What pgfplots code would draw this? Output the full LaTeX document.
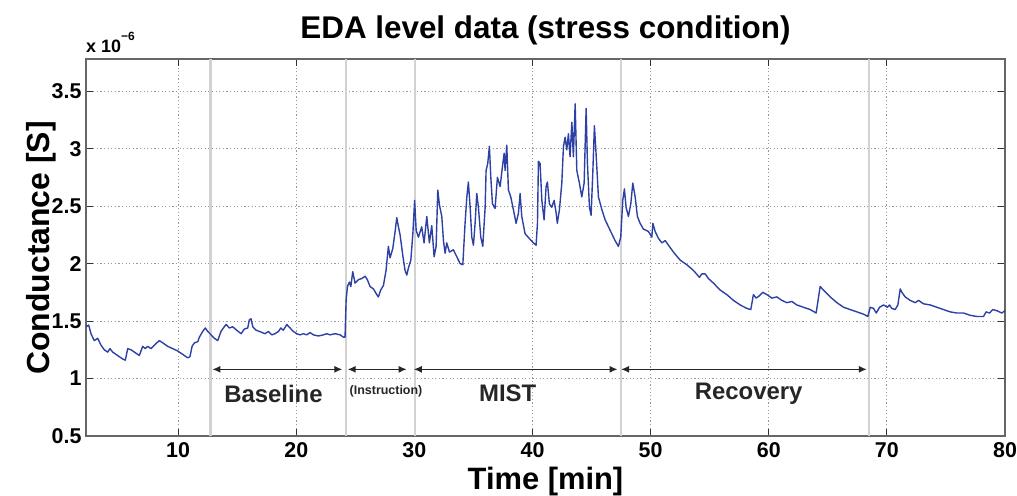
\documentclass[border=0pt]{standalone}
\usepackage{pgfplots}
\pgfplotsset{compat=1.18}
\usepackage{pgfplotstable}
\usepackage{fontspec}
\setmainfont{Liberation Sans}
\usetikzlibrary{arrows.meta}
\definecolor{edablue}{RGB}{45,65,165}
\pgfplotstableread{
t v
2.20 1.45
2.43 1.465
2.62 1.39
2.90 1.33
3.19 1.35
3.47 1.29
3.75 1.25
4.04 1.23
4.23 1.26
4.46 1.23
4.88 1.20
5.31 1.17
5.53 1.16
5.73 1.26
6.01 1.25
6.44 1.22
6.71 1.20
7.00 1.28
7.22 1.26
7.42 1.28
7.70 1.26
7.99 1.29
8.19 1.31
8.41 1.33
8.70 1.31
9.12 1.28
9.54 1.26
9.96 1.24
10.39 1.21
10.81 1.18
11.00 1.19
11.18 1.28
11.37 1.31
11.66 1.32
11.80 1.36
12.08 1.41
12.30 1.44
12.50 1.41
12.79 1.38
13.07 1.35
13.35 1.33
13.63 1.41
13.83 1.44
14.06 1.47
14.34 1.44
14.62 1.45
14.96 1.42
15.33 1.39
15.60 1.43
15.89 1.44
16.03 1.51
16.17 1.52
16.32 1.45
16.60 1.42
16.88 1.41
17.36 1.39
17.64 1.41
17.93 1.38
18.20 1.39
18.50 1.41
18.69 1.44
18.90 1.42
19.20 1.47
19.47 1.44
19.75 1.41
20.04 1.39
20.32 1.38
20.60 1.39
20.89 1.38
21.17 1.40
21.45 1.38
21.87 1.37
22.30 1.38
22.58 1.39
22.86 1.38
23.29 1.39
23.71 1.38
23.99 1.36
24.13 1.36
24.22 1.68
24.33 1.80
24.50 1.84
24.62 1.80
24.78 1.93
24.98 1.83
25.26 1.86
25.55 1.87
25.83 1.89
26.02 1.86
26.25 1.80
26.53 1.78
26.82 1.73
26.95 1.71
27.15 1.77
27.38 1.81
27.60 1.94
27.80 2.15
27.94 2.05
28.17 2.13
28.37 2.28
28.51 2.40
28.65 2.32
28.79 2.25
29.02 2.07
29.21 1.94
29.36 1.90
29.49 1.96
29.70 2.03
29.87 2.26
30.02 2.55
30.15 2.29
30.34 2.23
30.62 2.32
30.82 2.18
31.05 2.41
31.27 2.18
31.47 2.33
31.67 2.06
31.84 2.15
31.98 2.64
32.12 2.51
32.32 2.41
32.46 2.20
32.60 2.09
32.74 2.18
32.97 2.10
33.30 2.12
33.59 2.06
33.87 2.00
34.10 1.99
34.29 2.35
34.44 2.58
34.57 2.71
34.72 2.49
34.86 2.23
35.00 2.16
35.14 2.35
35.28 2.61
35.42 2.49
35.62 2.23
35.79 2.15
35.99 2.49
36.07 2.81
36.21 2.87
36.35 3.02
36.47 2.75
36.61 2.52
36.83 2.48
37.03 2.75
37.26 2.67
37.45 2.84
37.60 2.96
37.68 2.81
37.82 3.03
37.96 2.64
38.16 2.58
38.38 2.47
38.61 2.35
38.81 2.44
38.95 2.61
39.09 2.41
39.37 2.26
39.80 2.21
40.08 2.18
40.30 2.16
40.42 2.35
40.50 2.89
40.64 2.87
40.79 2.55
40.98 2.38
41.15 2.67
41.26 2.71
41.43 2.52
41.63 2.49
41.83 2.55
42.00 2.44
42.10 2.35
42.28 2.47
42.48 2.70
42.62 3.02
42.76 3.10
42.90 2.99
43.04 3.13
43.18 2.93
43.33 3.23
43.46 2.93
43.61 3.39
43.75 2.81
43.97 2.70
44.17 2.58
44.37 2.70
44.54 3.35
44.65 2.87
44.82 2.49
44.96 2.42
45.10 2.78
45.24 3.20
45.39 2.94
45.58 2.58
45.87 2.47
46.15 2.38
46.57 2.29
46.99 2.20
47.27 2.15
47.47 2.23
47.64 2.55
47.78 2.65
47.92 2.49
48.12 2.41
48.32 2.52
48.49 2.70
48.69 2.58
48.88 2.41
49.11 2.35
49.39 2.30
49.81 2.28
50.10 2.23
50.19 2.35
50.38 2.28
50.66 2.22
50.95 2.18
51.23 2.20
51.51 2.16
51.93 2.10
52.50 2.03
53.06 1.99
53.63 1.94
54.13 1.88
54.33 1.91
54.62 1.91
54.89 1.87
55.32 1.83
55.88 1.77
56.45 1.73
57.01 1.68
57.58 1.64
58.14 1.61
58.48 1.60
58.70 1.73
58.93 1.70
59.21 1.72
59.50 1.75
59.84 1.73
60.26 1.70
60.69 1.71
61.11 1.68
61.53 1.66
61.96 1.67
62.38 1.64
62.94 1.62
63.51 1.60
64.01 1.57
64.13 1.65
64.35 1.80
64.63 1.77
65.20 1.71
65.77 1.66
66.33 1.62
66.89 1.60
67.46 1.58
68.02 1.56
68.39 1.54
68.59 1.62
68.87 1.61
69.10 1.57
69.38 1.62
69.72 1.64
70.05 1.62
70.22 1.64
70.42 1.61
70.70 1.60
70.93 1.64
71.13 1.78
71.27 1.75
71.55 1.71
71.97 1.68
72.40 1.66
72.68 1.68
73.10 1.65
73.67 1.64
74.23 1.62
74.79 1.60
75.36 1.58
75.92 1.57
76.49 1.57
77.05 1.55
77.62 1.54
78.18 1.54
78.40 1.58
78.69 1.57
78.97 1.60
79.31 1.59
79.73 1.57
80.00 1.59
}\edadata
\begin{document}
\begin{tikzpicture}
\path[use as bounding box] (-86bp,-60bp) rectangle (931bp,436bp);
\begin{axis}[
  scale only axis,
  width=919bp, height=377bp,
  xmin=2.2, xmax=80, ymin=0.5, ymax=3.78,
  xtick={10,20,30,40,50,60,70,80},
  xticklabels={10,20,30,40,50,60,70,80},
  ytick={0.5,1,1.5,2,2.5,3,3.5},
  yticklabels={0.5,1,1.5,2,2.5,3,3.5},
  tick align=inside,
  xtick pos=both, ytick pos=both,
  major tick length=7bp,
  tick style={black!80, line width=0.8bp},
  ticklabel style={font=\fontsize{21.5}{21.5}\selectfont\bfseries},
  xticklabel style={yshift=-3bp},
  yticklabel style={xshift=-1bp},
  grid=major,
  major grid style={gray!80, line width=0.8bp, dash pattern=on 1.2bp off 2.4bp},
  axis line style={black!60, line width=1.2bp},
  clip=false,
]
\foreach \p in {12.76,24.19,30.06,47.48,68.5}{
  \edef\tmp{\noexpand\draw[gray!35, line width=2.5bp] (axis cs:\p,0.5) -- (axis cs:\p,3.78);}\tmp
}
\addplot[edablue, line width=1.4bp, line join=round] table[x=t,y=v]{\edadata};
\draw[{Latex[length=8bp,width=7bp]}-{Latex[length=8bp,width=7bp]}, black!85, line width=1.3bp] (axis cs:12.9,1.08) -- (axis cs:23.9,1.08);
\draw[{Latex[length=8bp,width=7bp]}-{Latex[length=8bp,width=7bp]}, black!85, line width=1.3bp] (axis cs:24.35,1.08) -- (axis cs:29.35,1.08);
\draw[{Latex[length=8bp,width=7bp]}-{Latex[length=8bp,width=7bp]}, black!85, line width=1.3bp] (axis cs:29.95,1.08) -- (axis cs:47.2,1.08);
\draw[{Latex[length=8bp,width=7bp]}-{Latex[length=8bp,width=7bp]}, black!85, line width=1.3bp] (axis cs:47.5,1.08) -- (axis cs:68.3,1.08);
\node[font=\fontsize{24}{24}\selectfont\bfseries, text=black!85] at (axis cs:18.07,0.87) {Baseline};
\node[font=\fontsize{12.5}{12.5}\selectfont\bfseries, text=black!85] at (axis cs:27.6,0.89) {(Instruction)};
\node[font=\fontsize{24}{24}\selectfont\bfseries, text=black!85] at (axis cs:37.9,0.87) {MIST};
\node[font=\fontsize{24}{24}\selectfont\bfseries, text=black!85] at (axis cs:58.3,0.87) {Recovery};
\end{axis}
\node[anchor=base, font=\fontsize{31.5}{31.5}\selectfont\bfseries] at (459.5bp,397bp) {EDA level data (stress condition)};
\node[anchor=base west, inner sep=0pt, font=\fontsize{18}{18}\selectfont\bfseries] at (0bp,383.5bp) {x 10\raisebox{0.65em}{\fontsize{12}{12}\selectfont −6}};
\node[anchor=base, inner sep=0pt, font=\fontsize{31}{31}\selectfont\bfseries] at (459.5bp,-53bp) {Time [min]};
\node[anchor=base, rotate=90, inner sep=0pt, font=\fontsize{32}{32}\selectfont\bfseries] at (-37bp,188bp) {Conductance [S]};
\end{tikzpicture}
\end{document}
